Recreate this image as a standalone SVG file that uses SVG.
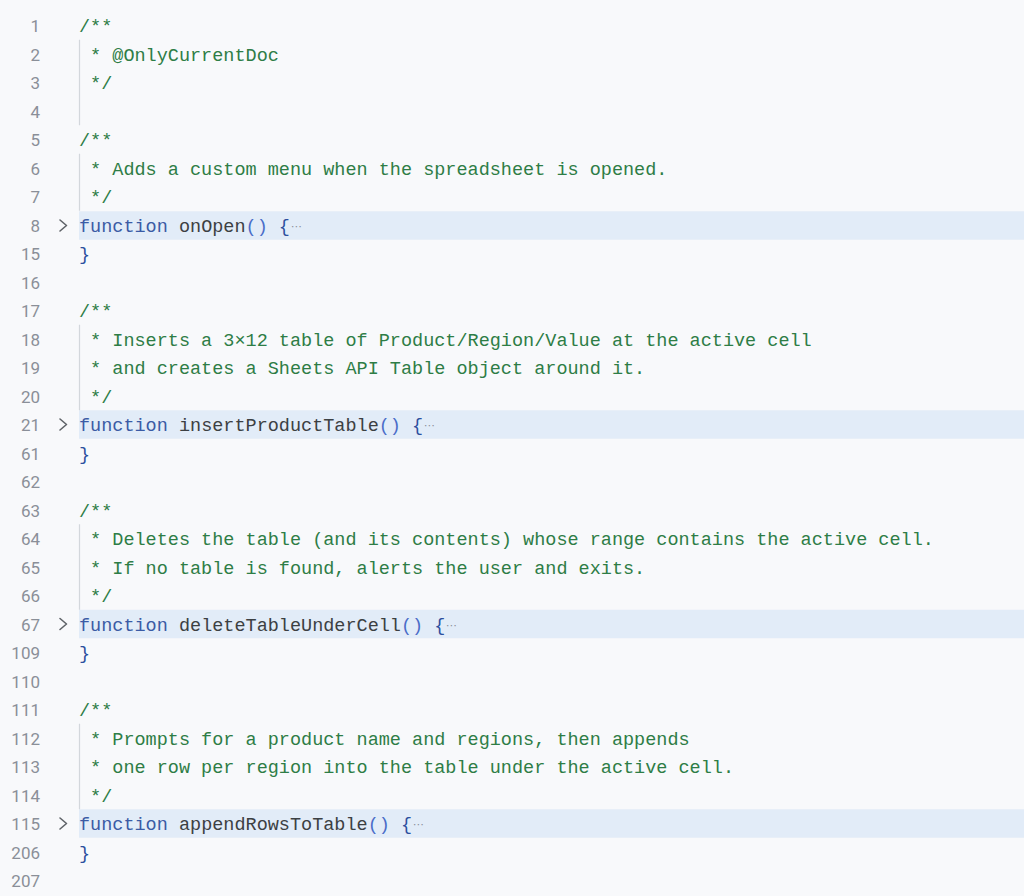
<svg xmlns="http://www.w3.org/2000/svg" width="1024" height="896" viewBox="0 0 1024 896">
<style>
text{font-family:"Liberation Mono","DejaVu Sans Mono",monospace;font-size:18.5px;white-space:pre}
.ln{font-family:Roboto,"Liberation Sans",sans-serif;font-size:17px;fill:#8a8f98;text-anchor:end}
.cm{fill:#2e7d46}
.kw{fill:#3b5ba5}
.fn{fill:#3c4043}
.pr{fill:#4a6cc8}
.br{fill:#2d4f9e}
.el{font-family:"DejaVu Sans",sans-serif;font-size:11px;fill:#8a8f98}
.band{fill:#e2ecf8}
.guide{stroke:#d3d7dc;stroke-width:1.2}
.chev{fill:none;stroke:#5f6368;stroke-width:1.6;stroke-linecap:round;stroke-linejoin:round}
</style>
<rect width="1024" height="896" fill="#f8f9fb"/>
<g id="bands">
<rect class="band" x="79" y="211.25" width="945" height="28.5"/>
<rect class="band" x="79" y="410.25" width="945" height="28.5"/>
<rect class="band" x="79" y="609.75" width="945" height="28.5"/>
<rect class="band" x="79" y="809.25" width="945" height="28.5"/>
</g>
<g id="guides">
<line class="guide" x1="79.5" y1="39.75" x2="79.5" y2="125.25"/>
<line class="guide" x1="79.5" y1="153.75" x2="79.5" y2="210.75"/>
<line class="guide" x1="79.5" y1="324.75" x2="79.5" y2="410.25"/>
<line class="guide" x1="79.5" y1="524.25" x2="79.5" y2="609.75"/>
<line class="guide" x1="79.5" y1="723.75" x2="79.5" y2="809.25"/>
</g>
<g id="line-numbers">
<text class="ln" x="40" y="32">1</text>
<text class="ln" x="40" y="60.5">2</text>
<text class="ln" x="40" y="89">3</text>
<text class="ln" x="40" y="117.5">4</text>
<text class="ln" x="40" y="146">5</text>
<text class="ln" x="40" y="174.5">6</text>
<text class="ln" x="40" y="203">7</text>
<text class="ln" x="40" y="231.5">8</text>
<text class="ln" x="40" y="260">15</text>
<text class="ln" x="40" y="288.5">16</text>
<text class="ln" x="40" y="317">17</text>
<text class="ln" x="40" y="345.5">18</text>
<text class="ln" x="40" y="374">19</text>
<text class="ln" x="40" y="402.5">20</text>
<text class="ln" x="40" y="431">21</text>
<text class="ln" x="40" y="459.5">61</text>
<text class="ln" x="40" y="488">62</text>
<text class="ln" x="40" y="516.5">63</text>
<text class="ln" x="40" y="545">64</text>
<text class="ln" x="40" y="573.5">65</text>
<text class="ln" x="40" y="602">66</text>
<text class="ln" x="40" y="630.5">67</text>
<text class="ln" x="40" y="659">109</text>
<text class="ln" x="40" y="687.5">110</text>
<text class="ln" x="40" y="716">111</text>
<text class="ln" x="40" y="744.5">112</text>
<text class="ln" x="40" y="773">113</text>
<text class="ln" x="40" y="801.5">114</text>
<text class="ln" x="40" y="830">115</text>
<text class="ln" x="40" y="858.5">206</text>
<text class="ln" x="40" y="887">207</text>
</g>
<g id="fold-chevrons">
<polyline class="chev" points="60,220 66.5,225.5 60,231"/>
<polyline class="chev" points="60,419 66.5,424.5 60,430"/>
<polyline class="chev" points="60,618.5 66.5,624 60,629.5"/>
<polyline class="chev" points="60,818 66.5,823.5 60,829"/>
</g>
<g id="block-onlycurrentdoc">
<text class="cm" x="79" y="32">/**</text>
<text class="cm" x="79" y="60.5"> * @OnlyCurrentDoc</text>
<text class="cm" x="79" y="89"> */</text>
</g>
<g id="block-onOpen">
<text class="cm" x="79" y="146">/**</text>
<text class="cm" x="79" y="174.5"> * Adds a custom menu when the spreadsheet is opened.</text>
<text class="cm" x="79" y="203"> */</text>
<text x="79" y="231.5"><tspan class="kw">function</tspan><tspan class="fn"> onOpen</tspan><tspan class="pr">()</tspan><tspan class="br"> {</tspan></text>
<text class="el" x="291" y="229.5">⋯</text>
<text class="br" x="79" y="260">}</text>
</g>
<g id="block-insertProductTable">
<text class="cm" x="79" y="317">/**</text>
<text class="cm" x="79" y="345.5"> * Inserts a 3×12 table of Product/Region/Value at the active cell</text>
<text class="cm" x="79" y="374"> * and creates a Sheets API Table object around it.</text>
<text class="cm" x="79" y="402.5"> */</text>
<text x="79" y="431"><tspan class="kw">function</tspan><tspan class="fn"> insertProductTable</tspan><tspan class="pr">()</tspan><tspan class="br"> {</tspan></text>
<text class="el" x="424" y="429">⋯</text>
<text class="br" x="79" y="459.5">}</text>
</g>
<g id="block-deleteTableUnderCell">
<text class="cm" x="79" y="516.5">/**</text>
<text class="cm" x="79" y="545"> * Deletes the table (and its contents) whose range contains the active cell.</text>
<text class="cm" x="79" y="573.5"> * If no table is found, alerts the user and exits.</text>
<text class="cm" x="79" y="602"> */</text>
<text x="79" y="630.5"><tspan class="kw">function</tspan><tspan class="fn"> deleteTableUnderCell</tspan><tspan class="pr">()</tspan><tspan class="br"> {</tspan></text>
<text class="el" x="446" y="628.5">⋯</text>
<text class="br" x="79" y="659">}</text>
</g>
<g id="block-appendRowsToTable">
<text class="cm" x="79" y="716">/**</text>
<text class="cm" x="79" y="744.5"> * Prompts for a product name and regions, then appends</text>
<text class="cm" x="79" y="773"> * one row per region into the table under the active cell.</text>
<text class="cm" x="79" y="801.5"> */</text>
<text x="79" y="830"><tspan class="kw">function</tspan><tspan class="fn"> appendRowsToTable</tspan><tspan class="pr">()</tspan><tspan class="br"> {</tspan></text>
<text class="el" x="413" y="828">⋯</text>
<text class="br" x="79" y="858.5">}</text>
</g>
</svg>
